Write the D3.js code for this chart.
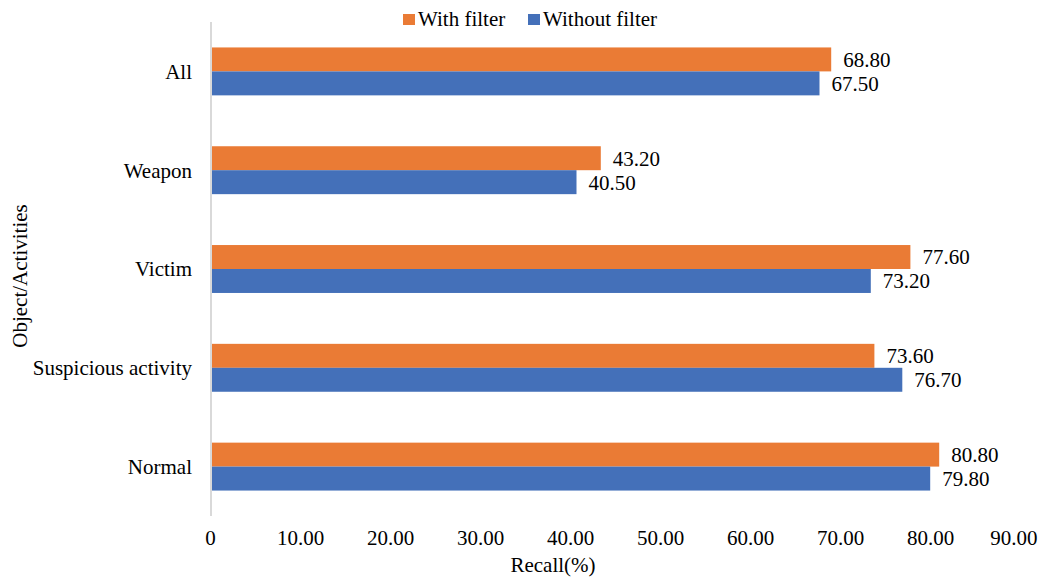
<!DOCTYPE html>
<html>
<head>
<meta charset="utf-8">
<script src="https://cdn.jsdelivr.net/npm/d3@7"></script>
<style>
  html, body { margin: 0; padding: 0; background: #fff; }
  svg { display: block; }
  svg text { font-family: "Liberation Serif", "DejaVu Serif", serif; }
</style>
</head>
<body>
<svg id="chart" width="1040" height="577"></svg>
<script>
// Recall per object/activity class, with and without the filter
const categories = ["All", "Weapon", "Victim", "Suspicious activity", "Normal"];
const seriesNames = ["With filter", "Without filter"];
const withFilter = [68.80, 43.20, 77.60, 73.60, 80.80];
const withoutFilter = [67.50, 40.50, 73.20, 76.70, 79.80];
const xTicks = [0, 10, 20, 30, 40, 50, 60, 70, 80, 90];
const seriesColors = ["#EA7B35", "#4470B9"];

const FONT = "'Liberation Serif', 'DejaVu Serif', serif";
const FS = 21;
const svg = d3.select("#chart");
const plotLeft = 212, plotRight = 1022, plotTop = 22, plotBottom = 516;

const x = d3.scaleLinear().domain([0, 90]).range([plotLeft, plotRight]);
const y = d3.scaleBand().domain(categories).range([plotTop, plotBottom])
  .paddingInner(0.515).paddingOuter(0.2575);
const sub = d3.scaleBand().domain(seriesNames).range([0, y.bandwidth()]);

const rows = categories.map((c, i) => ({ cat: c, vals: [withFilter[i], withoutFilter[i]] }));

// bars
const groups = svg.append("g").selectAll("g").data(rows).join("g")
  .attr("transform", d => `translate(0,${y(d.cat)})`);

groups.selectAll("rect").data(d => d.vals.map((v, k) => ({ v, k })))
  .join("rect")
  .attr("x", x(0))
  .attr("y", d => sub(seriesNames[d.k]))
  .attr("width", d => x(d.v) - x(0))
  .attr("height", sub.bandwidth())
  .attr("fill", d => seriesColors[d.k]);

// value labels
groups.selectAll("text").data(d => d.vals.map((v, k) => ({ v, k })))
  .join("text")
  .attr("x", d => x(d.v) + 12)
  .attr("y", d => sub(seriesNames[d.k]) + sub.bandwidth() / 2)
  .attr("dy", "0.35em")
  .style("font-family", FONT)
  .attr("font-size", FS)
  .attr("fill", "#000")
  .text(d => d.v.toFixed(2));

// vertical category axis line
svg.append("line")
  .attr("x1", x(0) - 1).attr("x2", x(0) - 1)
  .attr("y1", plotTop).attr("y2", plotBottom)
  .attr("stroke", "#d9d9d9").attr("stroke-width", 2);

// category labels
svg.append("g").selectAll("text").data(categories).join("text")
  .attr("x", 192)
  .attr("y", d => y(d) + y.bandwidth() / 2)
  .attr("dy", "0.35em")
  .attr("text-anchor", "end")
  .style("font-family", FONT)
  .attr("font-size", FS)
  .attr("fill", "#000")
  .text(d => d);

// x tick labels
const xAxis = d3.axisBottom(x).tickValues(xTicks)
  .tickFormat(d => d === 0 ? "0" : d.toFixed(2)).tickSize(0).tickPadding(0);
const xg = svg.append("g").attr("transform", "translate(-2,545)").call(xAxis);
xg.attr("font-family", null).attr("font-size", null);
xg.select(".domain").remove();
xg.selectAll("text")
  .style("font-family", FONT)
  .attr("font-size", FS)
  .attr("fill", "#000")
  .attr("dy", "0")
  .attr("y", 0);
// keep the last tick label inside the canvas
xg.selectAll(".tick").filter(d => d === 90).select("text")
  .attr("text-anchor", "end").attr("dx", 17);

// axis titles
svg.append("text")
  .attr("x", 553).attr("y", 572)
  .attr("text-anchor", "middle").style("font-family", FONT)
  .attr("font-size", FS).attr("fill", "#000")
  .text("Recall(%)");

svg.append("text")
  .attr("transform", `translate(27,276) rotate(-90)`)
  .attr("text-anchor", "middle").style("font-family", FONT)
  .attr("font-size", FS).attr("fill", "#000")
  .text("Object/Activities");

// legend
const legend = svg.append("g");
const legendX = [403, 528];
seriesNames.forEach((n, i) => {
  legend.append("rect").attr("x", legendX[i]).attr("y", 14)
    .attr("width", 12).attr("height", 11).attr("fill", seriesColors[i]);
  legend.append("text").attr("x", legendX[i] + 15).attr("y", 26)
    .style("font-family", FONT)
    .attr("font-size", FS).attr("fill", "#000").text(n);
});
</script>
</body>
</html>
